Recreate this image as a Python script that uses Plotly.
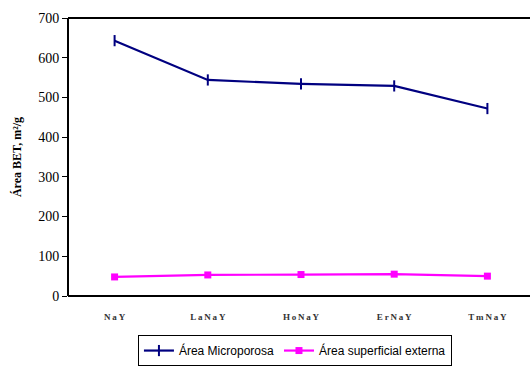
import plotly.graph_objects as go

# Catalyst samples and their BET surface areas (m²/g)
samples = ["NaY", "LaNaY", "HoNaY", "ErNaY", "TmNaY"]
area_micro = [643, 544, 534, 529, 472]
area_ext = [48, 53, 54, 55, 50]

y_ticks = [0, 100, 200, 300, 400, 500, 600, 700]

# Letter-spaced category labels, as printed on the axis
spaced = ["<b>" + "\u2009".join(s) + "</b>" for s in samples]

SERIF = "Liberation Serif"

fig = go.Figure()
fig.add_trace(go.Scatter(
    x=samples, y=area_micro, name="Área Microporosa",
    mode="lines+markers",
    line=dict(color="#000080", width=2.2),
    marker=dict(symbol="line-ns", size=8, color="#000080",
                line=dict(color="#000080", width=2)),
))
fig.add_trace(go.Scatter(
    x=samples, y=area_ext, name="Área superficial externa",
    mode="lines+markers",
    line=dict(color="#FF00FF", width=2.2),
    marker=dict(symbol="square", size=7, color="#FF00FF"),
))

# Frame of the plot area: left, bottom and top edges
for x0, y0, x1, y1 in [(0, 0, 0, 1), (0, 0, 1, 0), (0, 1, 1, 1)]:
    fig.add_shape(type="line", xref="paper", yref="paper",
                  x0=x0, y0=y0, x1=x1, y1=y1,
                  line=dict(color="black", width=2), layer="above")

# The plot area runs slightly past the visible page width on the right
fig.update_layout(
    width=534, height=366,
    margin=dict(l=68, r=0, t=18, b=70, autoexpand=False),
    paper_bgcolor="white", plot_bgcolor="white",
    showlegend=True,
    legend=dict(
        orientation="h", x=0.487, xanchor="center", y=-0.252, yanchor="bottom",
        bordercolor="black", borderwidth=1,
        font=dict(family="Liberation Sans", size=12, color="black"),
        itemwidth=30, tracegroupgap=0,
    ),
    font=dict(family=SERIF, color="black"),
)

fig.update_xaxes(
    type="category", categoryorder="array", categoryarray=samples,
    tickvals=samples, ticktext=spaced,
    range=[-0.5, 4.5],
    showline=False, showgrid=False, zeroline=False, ticks="",
    tickfont=dict(family=SERIF, size=9, color="#333"),
    ticklabelstandoff=14,
)
fig.update_yaxes(
    range=[0, 700], tickvals=y_ticks,
    showline=False, showgrid=False, zeroline=False,
    ticks="outside", ticklen=5, tickwidth=1, tickcolor="black",
    tickfont=dict(family=SERIF, size=14, color="black"),
    title=dict(text="<b>Área BET, m²/g</b>", standoff=14,
               font=dict(family=SERIF, size=12, color="black")),
)

fig.write_html(
    "out.html",
    config={"displayModeBar": False},
    post_script="document.documentElement.style.overflow='hidden';"
                "document.body.style.overflow='hidden';",
)
